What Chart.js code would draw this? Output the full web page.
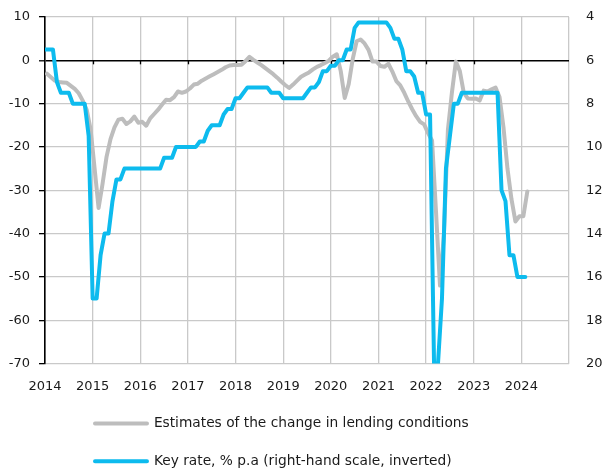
<!DOCTYPE html>
<html>
<head>
<meta charset="utf-8">
<script src="https://cdn.jsdelivr.net/npm/chart.js@4.4.1/dist/chart.umd.min.js"></script>
<style>
  html, body { margin: 0; padding: 0; background: #fff; }
  #wrap { width: 606px; height: 475px; }
</style>
</head>
<body>
<div id="wrap"><canvas id="myChart" width="606" height="475"></canvas></div>
<script>
// monthly data, Jan 2014 .. Feb 2024
const startYear = 2014;
const yearTicks = [2014, 2015, 2016, 2017, 2018, 2019, 2020, 2021, 2022, 2023, 2024];

// estimates of the change in lending conditions (left scale)
const lendingConditions = [
    -3.1, -3.9, -4.7, -5.0, -5.1, -5.2, -5.9, -6.6, -7.6, -9.3, -11.4, -16.0,
    -25.0, -34.1, -28.5, -22.3, -18.2, -15.5, -13.7, -13.5, -14.7, -14.1, -13.0, -14.4,
    -14.2, -15.1, -13.4, -12.4, -11.4, -10.2, -9.1, -9.2, -8.5, -7.2, -7.5, -7.2,
    -6.5, -5.6, -5.4, -4.7, -4.2, -3.7, -3.2, -2.7, -2.2, -1.6, -1.2, -1.1,
    -1.1, -1.0, -0.2, 0.8, 0.1, -0.5, -1.1, -1.8, -2.5, -3.2, -4.0, -4.9,
    -5.7, -6.4, -5.6, -4.7, -3.8, -3.3, -2.8, -2.1, -1.5, -1.1, -0.6, -0.1,
    0.85, 1.4, -2.5, -8.7, -5.5, 0.2, 4.4, 4.8, 3.9, 2.4, -0.3, -0.3,
    -1.3, -1.5, -0.8, -2.6, -4.8, -5.8, -7.5, -9.5, -11.3, -12.9, -14.2, -14.8,
    -16.8, -18.5, -35.0, -52.0, -40.0, -16.0, -7.5, -0.3, -2.5, -7.5, -8.8, -8.9,
    -8.8, -9.3, -7.0, -7.2, -6.7, -6.3, -8.5, -15.5, -25.0, -32.0, -37.2, -36.0,
    -36.0, -30.3
];

// key rate, % p.a. (right scale, inverted)
const keyRate = [
    5.5, 5.5, 5.5, 7.0, 7.5, 7.5, 7.5, 8.0, 8.0, 8.0, 8.0, 9.5,
    17, 17, 15, 14, 14, 12.5, 11.5, 11.5, 11, 11, 11, 11,
    11, 11, 11, 11, 11, 11, 10.5, 10.5, 10.5, 10, 10, 10,
    10, 10, 10, 9.75, 9.75, 9.25, 9, 9, 9, 8.5, 8.25, 8.25,
    7.75, 7.75, 7.5, 7.25, 7.25, 7.25, 7.25, 7.25, 7.25, 7.5, 7.5, 7.5,
    7.75, 7.75, 7.75, 7.75, 7.75, 7.75, 7.5, 7.25, 7.25, 7.0, 6.5, 6.5,
    6.25, 6.25, 6.0, 6.0, 5.5, 5.5, 4.5, 4.25, 4.25, 4.25, 4.25, 4.25,
    4.25, 4.25, 4.25, 4.5, 5.0, 5.0, 5.5, 6.5, 6.5, 6.75, 7.5, 7.5,
    8.5, 8.5, 20, 20, 17, 11, 9.5, 8.0, 8.0, 7.5, 7.5, 7.5,
    7.5, 7.5, 7.5, 7.5, 7.5, 7.5, 7.5, 12, 12.5, 15, 15, 16,
    16, 16
];

const seriesNames = [
    'Estimates of the change in lending conditions',
    'Key rate, % p.a (right-hand scale, inverted)'
];

const grayColor = '#bdbdbd';
const blueColor = '#0dbbee';
const gridColor = '#c9c9c9';
const textColor = '#1a1a1a';
const fontFamily = "'DejaVu Sans', sans-serif";

// lending survey is plotted mid-month, key rate at the start of the month
const lendingPoints = lendingConditions.map((v, i) => ({ x: startYear + (i + 0.5) / 12, y: v }));
const ratePoints = keyRate.map((v, i) => ({ x: startYear + i / 12, y: v }));

// small down ticks on the zero line + aligned legend rows
const extrasPlugin = {
    id: 'extras',
    afterLayout(chart) {
        const lg = chart.legend;
        if (lg && lg.lineWidths) {
            // put both legend rows at the same left edge
            const startX = 95;
            const pad = lg.options.labels.padding;
            const w = lg.left + pad + lg.right - 2 * startX;
            lg.lineWidths = lg.lineWidths.map(() => w);
        }
    },
    beforeDatasetsDraw(chart) {
        const { ctx, scales } = chart;
        const y0 = scales.y.getPixelForValue(0);
        ctx.save();
        ctx.strokeStyle = '#000';
        ctx.lineWidth = 1.3;
        yearTicks.forEach(yr => {
            if (yr === startYear) return;
            const x = Math.round(scales.x.getPixelForValue(yr)) + 0.5;
            ctx.beginPath();
            ctx.moveTo(x, y0);
            ctx.lineTo(x, y0 + 4);
            ctx.stroke();
        });
        ctx.restore();
    }
};

document.addEventListener("DOMContentLoaded", () => {
    const ctx = document.getElementById('myChart').getContext('2d');
    new Chart(ctx, {
        type: 'line',
        data: {
            datasets: [{
                label: seriesNames[0],
                data: lendingPoints,
                borderColor: grayColor,
                backgroundColor: grayColor,
                borderWidth: 4,
                pointRadius: 0,
                tension: 0,
                borderJoinStyle: 'round',
                borderCapStyle: 'round',
                yAxisID: 'y',
                order: 1
            }, {
                label: seriesNames[1],
                data: ratePoints,
                borderColor: blueColor,
                backgroundColor: blueColor,
                borderWidth: 4,
                pointRadius: 0,
                tension: 0,
                borderJoinStyle: 'round',
                borderCapStyle: 'round',
                yAxisID: 'y2',
                order: 0
            }]
        },
        options: {
            responsive: false,
            animation: false,
            events: [],
            layout: { padding: { top: 17, left: 0, right: 0, bottom: -3 } },
            scales: {
                x: {
                    type: 'linear',
                    min: 2014,
                    max: 2025,
                    afterFit: (scale) => { scale.height = 29; },
                    afterBuildTicks: (scale) => {
                        scale.ticks = yearTicks.concat([2025]).map(v => ({ value: v }));
                    },
                    grid: { color: gridColor, lineWidth: 1.3, drawTicks: false },
                    border: { display: false },
                    ticks: {
                        autoSkip: false,
                        maxRotation: 0,
                        padding: 15,
                        color: textColor,
                        font: { family: fontFamily, size: 13 },
                        callback: (v) => yearTicks.includes(v) ? String(v) : ''
                    }
                },
                y: {
                    position: 'left',
                    min: -70,
                    max: 10,
                    afterFit: (scale) => { scale.width = 45; },
                    grid: {
                        color: (c) => c.tick && c.tick.value === 0 ? '#000' : gridColor,
                        lineWidth: (c) => c.tick && c.tick.value === 0 ? 1.6 : 1.3,
                        tickColor: '#000',
                        tickLength: 6,
                        tickWidth: 1.3
                    },
                    border: { display: true, color: '#000', width: 1.6 },
                    ticks: {
                        stepSize: 10,
                        padding: 9,
                        color: textColor,
                        font: { family: fontFamily, size: 13 }
                    }
                },
                y2: {
                    position: 'right',
                    min: 4,
                    max: 20,
                    reverse: true,
                    afterFit: (scale) => { scale.width = 37; },
                    grid: {
                        drawOnChartArea: false,
                        drawTicks: true,
                        tickLength: 12,
                        tickColor: 'rgba(0,0,0,0)'
                    },
                    border: { display: false },
                    ticks: {
                        stepSize: 2,
                        padding: 5,
                        color: textColor,
                        font: { family: fontFamily, size: 13 }
                    }
                }
            },
            plugins: {
                tooltip: { enabled: false },
                legend: {
                    position: 'bottom',
                    labels: {
                        boxWidth: 52,
                        boxHeight: 0,
                        padding: 24,
                        color: textColor,
                        font: { family: fontFamily, size: 13.75 },
                        sort: (a, b) => a.datasetIndex - b.datasetIndex
                    }
                }
            }
        },
        plugins: [extrasPlugin]
    });
});
</script>
</body>
</html>
